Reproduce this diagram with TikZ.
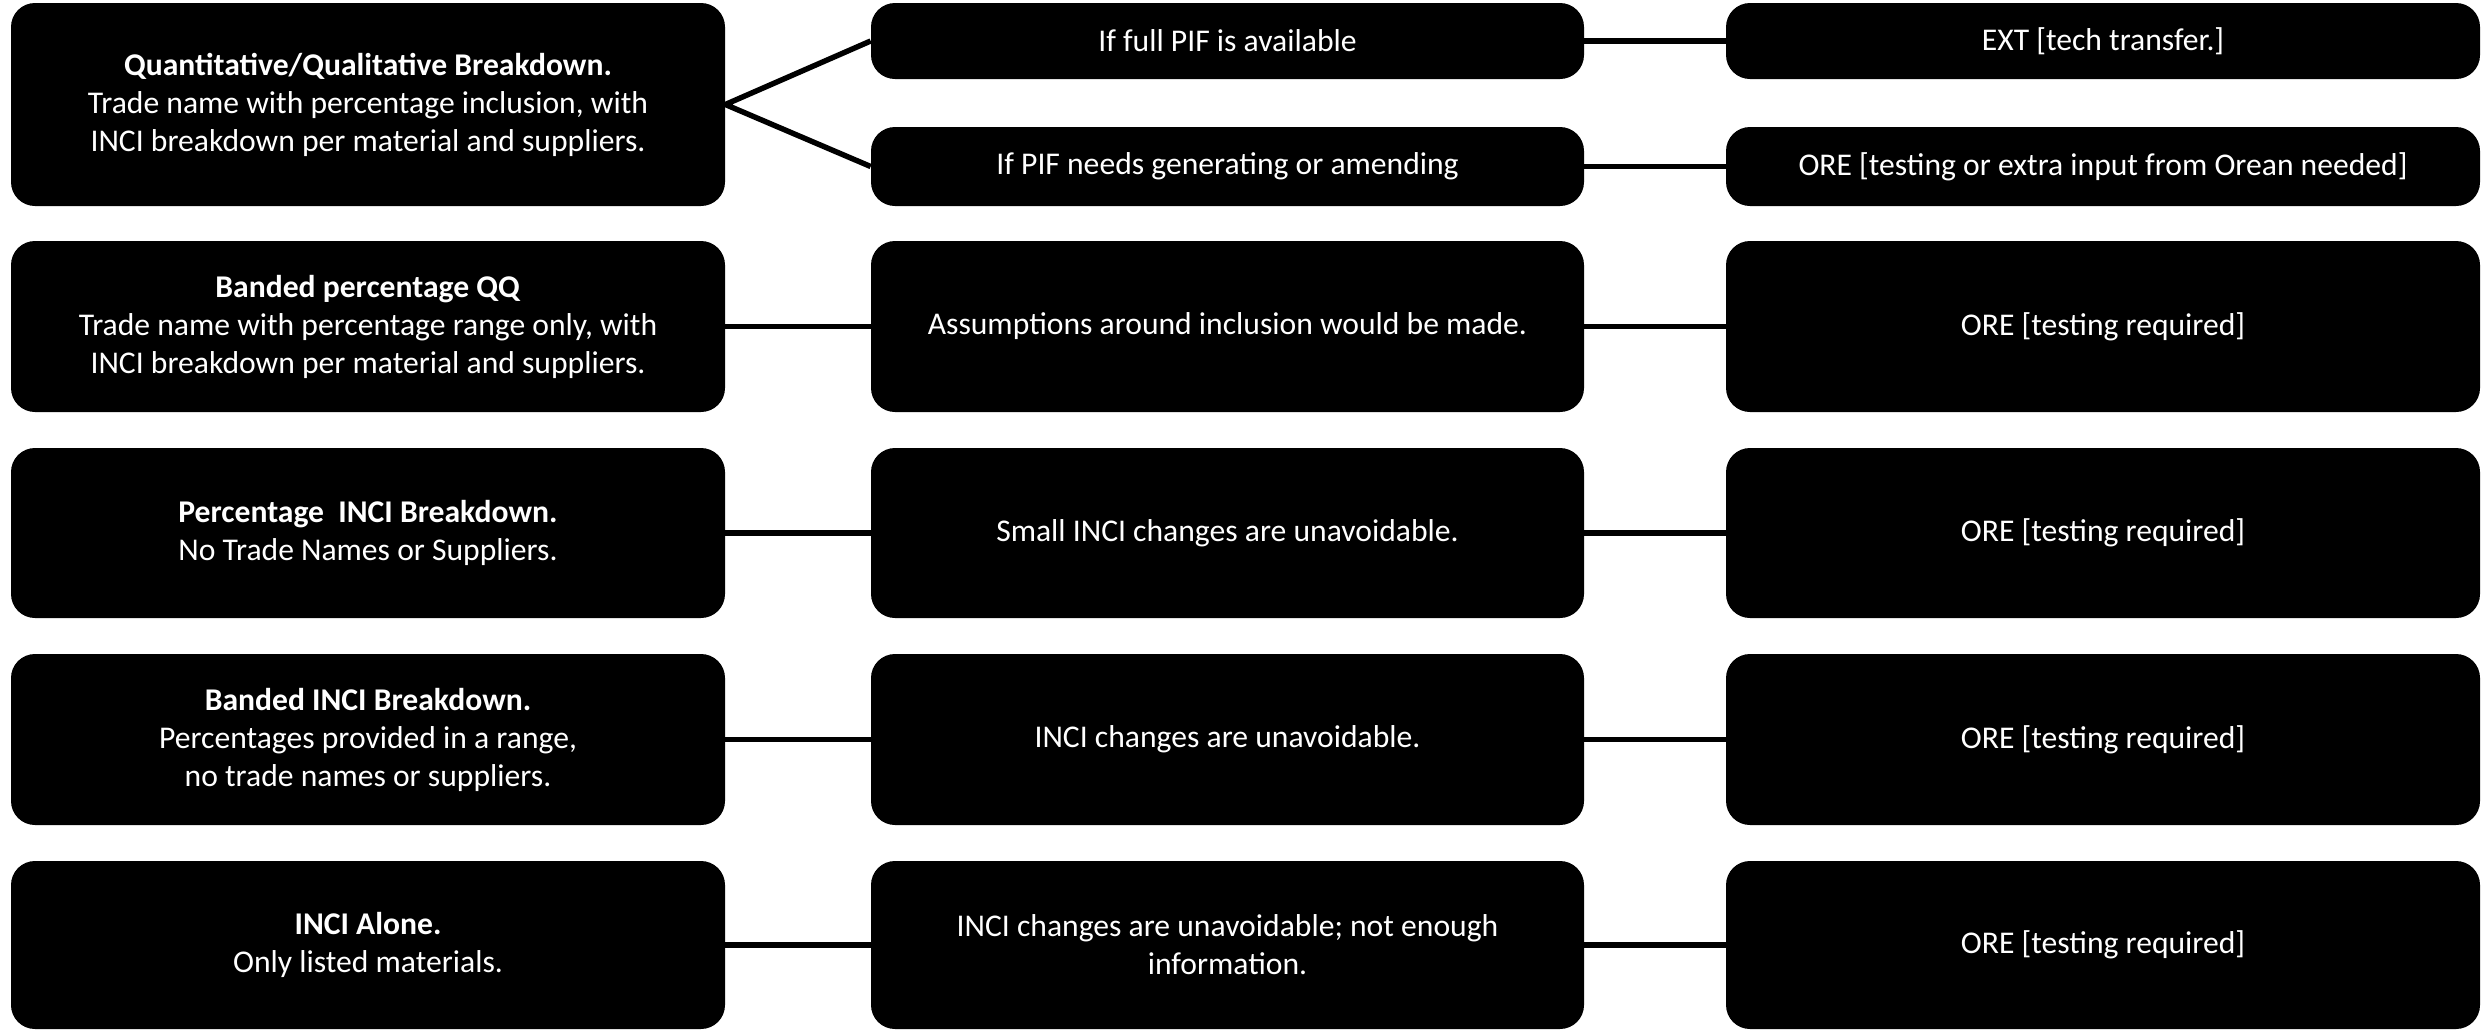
\documentclass[tikz,border=0pt]{standalone}
\usepackage{fontspec}
\setmainfont{Carlito}

\begin{document}
\begin{tikzpicture}[font = \fontsize{18}{21.6}\selectfont,
    box/.style = {fill = black, text = white, rounded corners = 0.48cm, align = center, inner sep = 0pt},
    leftbox/.style = {box, minimum width = 14.28cm},
    midbox/.style = {box, minimum width = 14.26cm},
    rightbox/.style = {box, minimum width = 15.08cm},
    link/.style = {line width = 3.1pt}]
            \useasboundingbox (0,0) rectangle (49.66,-20.6);

            \node[leftbox, minimum height = 4.06cm] (qq) at (7.36,-2.09)
            {\textbf{Quantitative/Qualitative Breakdown.}\\Trade name with percentage inclusion, with\\INCI breakdown per material and suppliers.};
            \node[leftbox, minimum height = 3.42cm] (band) at (7.36,-6.53)
            {\textbf{Banded percentage QQ}\\Trade name with percentage range only, with\\INCI breakdown per material and suppliers.};
            \node[leftbox, minimum height = 3.40cm] (pct) at (7.36,-10.66)
            {\textbf{Percentage\ \ INCI Breakdown.}\\No Trade Names or Suppliers.};
            \node[leftbox, minimum height = 3.42cm] (bandinci) at (7.36,-14.79)
            {\textbf{Banded INCI Breakdown.}\\Percentages provided in a range,\\no trade names or suppliers.};
            \node[leftbox, minimum height = 3.36cm] (alone) at (7.36,-18.9)
            {\textbf{INCI Alone.}\\Only listed materials.};

            \node[midbox, minimum height = 1.52cm] (full) at (24.55,-0.82) {If full PIF is available};
            \node[midbox, minimum height = 1.58cm] (gen) at (24.55,-3.33) {If PIF needs generating or amending};
            \node[midbox, minimum height = 3.42cm] (assume) at (24.55,-6.53) {Assumptions around inclusion would be made.};
            \node[midbox, minimum height = 3.40cm] (small) at (24.55,-10.66) {Small INCI changes are unavoidable.};
            \node[midbox, minimum height = 3.42cm] (change) at (24.55,-14.79) {INCI changes are unavoidable.};
            \node[midbox, minimum height = 3.36cm] (notenough) at (24.55,-18.9) {INCI changes are unavoidable; not enough\\information.};

            \node[rightbox, minimum height = 1.52cm] (ext) at (42.06,-0.82) {EXT [tech transfer.]};
            \node[rightbox, minimum height = 1.58cm] (orean) at (42.06,-3.33) {ORE [testing or extra input from Orean needed]};
            \node[rightbox, minimum height = 3.42cm] (ore2) at (42.06,-6.53) {ORE [testing required]};
            \node[rightbox, minimum height = 3.40cm] (ore3) at (42.06,-10.66) {ORE [testing required]};
            \node[rightbox, minimum height = 3.42cm] (ore4) at (42.06,-14.79) {ORE [testing required]};
            \node[rightbox, minimum height = 3.36cm] (ore5) at (42.06,-18.9) {ORE [testing required]};

            \draw[link] (full.west) -- (qq.east) -- (gen.west);
            \draw[link] (full) -- (ext);
            \draw[link] (gen) -- (orean);
            \draw[link] (band) -- (assume) -- (ore2);
            \draw[link] (pct) -- (small) -- (ore3);
            \draw[link] (bandinci) -- (change) -- (ore4);
            \draw[link] (alone) -- (notenough) -- (ore5);
        \end{tikzpicture}
\end{document}
